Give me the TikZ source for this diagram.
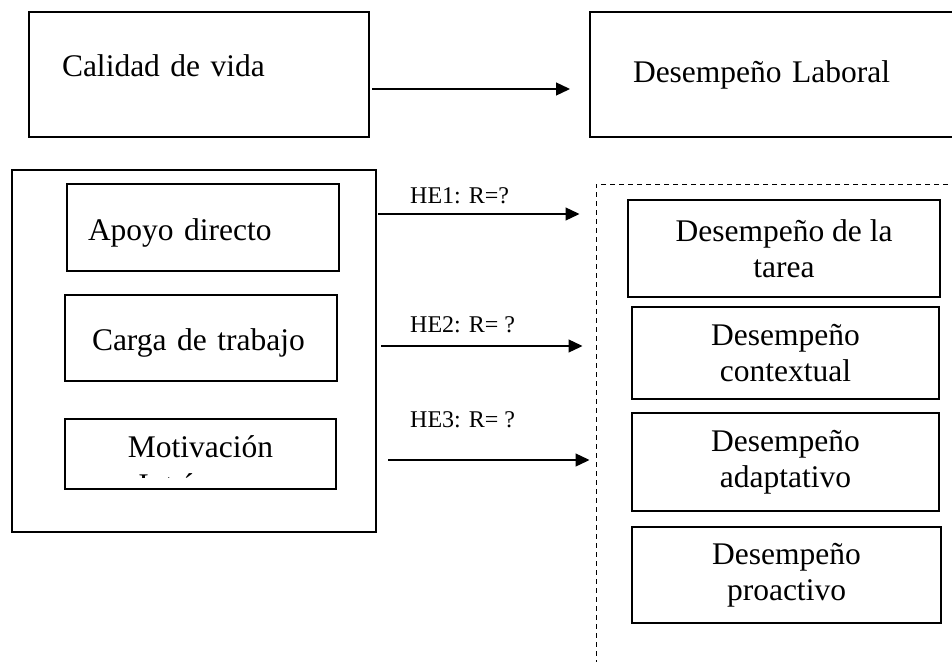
\documentclass[tikz,border=0pt]{standalone}
\usepackage{fontspec}
\setmainfont{Liberation Serif}
\usetikzlibrary{arrows.meta,calc}

\begin{document}
\begin{tikzpicture}[x=1pt,y=-1pt,
    caja/.style={draw, inner sep=0pt, font=\fontsize{31.5}{36}\selectfont},
    flecha/.style={-{Triangle[length=14pt,width=13pt]}, line width=1.3pt},
    etiqueta/.style={anchor=base west, inner sep=0pt, font=\fontsize{24}{26}\selectfont}]

      \useasboundingbox (0,0) rectangle (952,661);
      \clip (0,0) rectangle (952,661);

      % Top variables
      \node[caja, line width=2pt, minimum width=340pt, minimum height=125pt,
            text width=274pt, align=left, text height=22pt, text depth=17pt] (calidad) at (199,74.5) {Calidad de vida};
      \node[caja, line width=2pt, minimum width=410pt, minimum height=125pt,
            text width=324pt, align=left] (laboral) at (795,74.5) {Desempeño Laboral};

      \draw[flecha] ($(calidad.east)+(2,14.5)$) -- ($(laboral.west)+(-19,14.5)$);

      % Dimensions of calidad de vida
      \node[draw, line width=2.5pt, minimum width=364pt, minimum height=362pt] (dimensiones) at (194,351) {};

      \node[caja, line width=1.3pt, minimum width=272pt, minimum height=87pt,
            text width=230pt, align=left, text height=32pt, text depth=7pt] (apoyo) at (203,227.5) {Apoyo directo};
      \node[caja, line width=1.3pt, minimum width=272pt, minimum height=86pt,
            text width=218pt, align=left, text height=31pt, text depth=7pt] (carga) at (201,338) {Carga de trabajo};
      \node[caja, line width=1.3pt, minimum width=271pt, minimum height=70pt] (motivacion) at (200.5,454) {};

      % text cut by the box
      \begin{scope}
        \clip (65,419) rectangle (336,477);
        \node[anchor=north, inner sep=0pt, align=center, font=\fontsize{31.5}{38}\selectfont] (motivaciontxt) at (200.5,435.6) {Motivación\\Intrínseca};
      \end{scope}

      % Dimensions of desempeño laboral
      \node[draw, dashed, dash pattern=on 5pt off 4pt, line width=1pt, minimum width=404pt, minimum height=516pt] (desempeno) at (798,442) {};

      \node[caja, line width=1.2pt, minimum width=312pt, minimum height=97pt, align=center] (tarea) at (784,248.5) {Desempeño de la\\tarea};
      \node[caja, line width=2pt, minimum width=307pt, minimum height=92pt, align=center] (contextual) at (785.5,353) {Desempeño\\contextual};
      \node[caja, line width=1.2pt, minimum width=307pt, minimum height=98pt, align=center] (adaptativo) at (785.5,462) {Desempeño\\adaptativo};
      \node[caja, line width=2.5pt, minimum width=309pt, minimum height=96pt, align=center] (proactivo) at (786.5,575) {Desempeño\\proactivo};

      % Specific hypotheses
      \draw[flecha] ($(dimensiones.east)+(1,-137)$) -- ($(desempeno.west)+(-16,-228)$);
      \draw[flecha] ($(dimensiones.east)+(4,-5)$) -- ($(desempeno.west)+(-13,-96)$);
      \draw[flecha] ($(dimensiones.east)+(11,109)$) -- ($(desempeno.west)+(-6,18)$);

      \node[etiqueta] (he1) at (410,203) {HE1: R=?};
      \node[etiqueta] (he2) at (410,332) {HE2: R= ?};
      \node[etiqueta] (he3) at (410,427) {HE3: R= ?};

\end{tikzpicture}
\end{document}
